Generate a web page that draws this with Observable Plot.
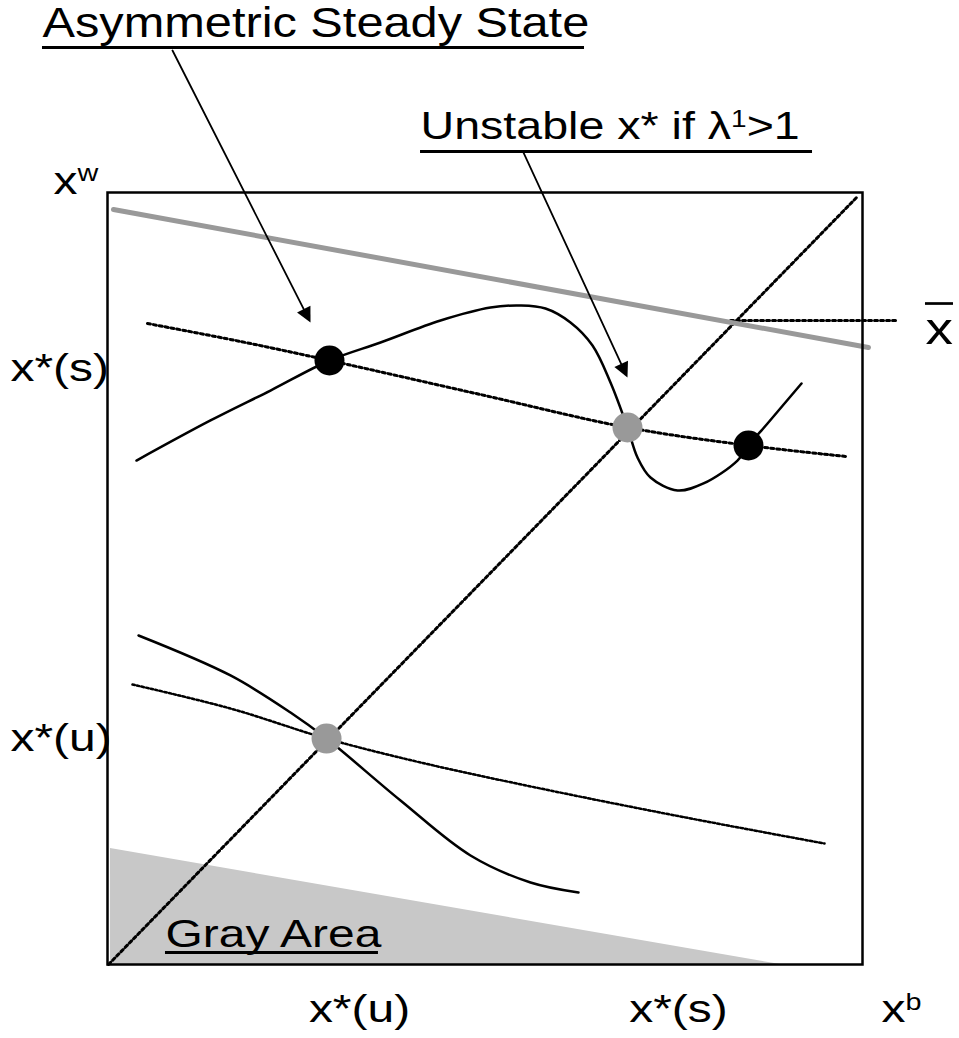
<!DOCTYPE html>
<html><head><meta charset="utf-8">
<script src="https://cdn.jsdelivr.net/npm/d3@7"></script>
<script src="https://cdn.jsdelivr.net/npm/@observablehq/plot@0.6"></script>
<style>body{margin:0;background:#fff}#chart{width:959px;height:1038px}</style>
</head><body><div id="chart"></div>
<script>
// ---- data (units: box spans 0..10 on both axes) ----
const greyLineX = [0.079, 10.079];
const greyLineY = [9.780, 7.992];
const diagonalX = [0.013, 9.934];
const diagonalY = [0.000, 9.948];
const xbarRefX = [8.252, 10.450];
const xbarRefY = [8.342, 8.342];
const upperSolidX = [0.384,1.364,2.159,2.940,3.616,4.411,5.073,5.470,5.801,6.132,6.424,6.662,6.887,7.020,7.192,7.550,7.894,8.344,8.490,8.742,9.192];
const upperSolidY = [6.528,7.047,7.435,7.824,8.057,8.342,8.510,8.536,8.497,8.316,8.018,7.539,6.956,6.567,6.308,6.140,6.231,6.528,6.723,7.008,7.526];
const upperDottedX = [0.530,1.762,2.940,4.940,6.887,8.490,9.788];
const upperDottedY = [8.303,8.070,7.824,7.383,6.956,6.723,6.580];
const lowerDottedX = [0.331,1.629,2.901,4.146,5.735,7.589,9.497];
const lowerDottedY = [3.627,3.316,2.927,2.617,2.280,1.917,1.567];
const lowerSolidX = [0.411,1.629,2.424,2.901,3.881,4.808,5.603,6.238];
const lowerSolidY = [4.262,3.744,3.264,2.927,2.124,1.412,1.062,0.933];
const grayAreaX = [0.040, 8.914];
const grayAreaY = [1.503, 0.000];
const stableX = [2.940, 8.490];
const stableY = [7.824, 6.723];
const unstableX = [6.887, 2.901];
const unstableY = [6.956, 2.927];
// annotations
const calloutText = ["Asymmetric Steady State", "Unstable x* if λ^{1}>1"];
const calloutX = [-0.861, 4.146];
const calloutY = [12.008, 10.687];
const calloutUnderX1 = [-0.861, 4.146];
const calloutUnderX2 = [6.318, 9.338];
const calloutUnderY = [11.878, 10.531];
const leaderFromX = [0.861, 5.510];
const leaderFromY = [11.839, 10.518];
const leaderTipX = [2.689, 6.887];
const leaderTipY = [8.316, 7.604];
const axisText = ["x^{w}", "x*(s)", "x*(u)", "Gray Area"];
const axisTextX = [-0.715, -1.285, -1.285, 0.768];
const axisTextY = [9.987, 7.564, 2.772, 0.233];
const bottomText = ["x*(u)", "x*(s)"];
const bottomTextX = [3.338, 7.563];
const bottomTextY = [-0.751, -0.751];
const xbText = ["x^{b}"];
const xbX = [10.252];
const xbY = [-0.751];
const xbarText = ["x"];
const xbarX = [10.834];
const xbarY = [8.044];
const xbarOverX = [10.834, 11.205];
const xbarOverY = 8.562;
const grayUnderX = [0.768, 3.589];
const grayUnderY = 0.155;

// ---- layout ----
const W = 959, H = 1038, ML = 107, MR = 97, MT = 192, MB = 74;
const kx = (W - ML - MR) / 10, ky = (H - MT - MB) / 10;
const FONT = "Liberation Sans, Arial, Helvetica, sans-serif";
const TITLE_FS = 42, CALLOUT_FS = 38.5, LABEL_FS = 39, XBAR_FS = 45;
const stretchBySize = {[TITLE_FS]: 1.16, [CALLOUT_FS]: 1.21, [LABEL_FS]: 1.23, [XBAR_FS]: 1.22};

const zip = (xs, ys) => xs.map((x, i) => ({x, y: ys[i]}));

// arrow heads computed in pixel space from the leader data
const leaders = [], heads = [];
leaderFromX.forEach((fx, i) => {
  const px0 = fx * kx, py0 = -leaderFromY[i] * ky;
  const px1 = leaderTipX[i] * kx, py1 = -leaderTipY[i] * ky;
  const L = Math.hypot(px1 - px0, py1 - py0);
  const ux = (px1 - px0) / L, uy = (py1 - py0) / L;
  const hl = 15, hw = 7.5;
  const bx = px1 - ux * hl, by = py1 - uy * hl;
  const toD = (px, py) => ({x: px / kx, y: -py / ky, id: i});
  leaders.push({x: fx, y: leaderFromY[i], id: i}, toD(bx, by));
  heads.push(toD(px1, py1), toD(bx - uy * hw, by + ux * hw), toD(bx + uy * hw, by - ux * hw));
});

const callouts = calloutText.map((t, i) => ({t, x: calloutX[i], y: calloutY[i]}));
const underlines = calloutUnderX1.map((x1, i) => ({x1, x2: calloutUnderX2[i], y: calloutUnderY[i]}));
underlines.push({x1: grayUnderX[0], x2: grayUnderX[1], y: grayUnderY});
const dotted = {stroke: "black", strokeWidth: 3, strokeDasharray: "3 3"};

const plot = Plot.plot({
  width: W, height: H,
  marginLeft: ML, marginRight: MR, marginTop: MT, marginBottom: MB,
  x: {domain: [0, 10], axis: null},
  y: {domain: [0, 10], axis: null},
  style: {fontFamily: FONT, background: "white", overflow: "visible"},
  marks: [
    Plot.areaY(zip(grayAreaX, grayAreaY), {x: "x", y1: 0, y2: "y", fill: "#c8c8c8"}),
    Plot.line(zip(diagonalX, diagonalY), {x: "x", y: "y", ...dotted}),
    Plot.line(zip(xbarRefX, xbarRefY), {x: "x", y: "y", ...dotted}),
    Plot.line(zip(upperDottedX, upperDottedY), {x: "x", y: "y", curve: "catmull-rom", ...dotted}),
    Plot.line(zip(lowerDottedX, lowerDottedY), {x: "x", y: "y", curve: "catmull-rom", ...dotted, strokeWidth: 2.5, strokeDasharray: "2.5 2.2"}),
    Plot.line(zip(upperSolidX, upperSolidY), {x: "x", y: "y", curve: "catmull-rom", stroke: "black", strokeWidth: 2.5}),
    Plot.line(zip(lowerSolidX, lowerSolidY), {x: "x", y: "y", curve: "catmull-rom", stroke: "black", strokeWidth: 2.5}),
    Plot.line(zip(greyLineX, greyLineY), {x: "x", y: "y", stroke: "#999999", strokeWidth: 5}),
    Plot.frame({stroke: "black", strokeWidth: 2.5}),
    Plot.line(leaders, {x: "x", y: "y", z: "id", stroke: "black", strokeWidth: 1.8}),
    Plot.line(heads, {x: "x", y: "y", z: "id", fill: "black", stroke: "none"}),
    Plot.dot(zip(stableX, stableY), {x: "x", y: "y", r: 15, fill: "black"}),
    Plot.dot(zip(unstableX, unstableY), {x: "x", y: "y", r: 15, fill: "#999999"}),
    Plot.ruleY(underlines, {x1: "x1", x2: "x2", y: "y", stroke: "black", strokeWidth: 3}),
    Plot.ruleY([xbarOverY], {x1: xbarOverX[0], x2: xbarOverX[1], stroke: "black", strokeWidth: 2.7}),
    Plot.text(callouts.slice(0, 1), {x: "x", y: "y", text: "t", fontSize: TITLE_FS, textAnchor: "start", lineAnchor: "bottom", fill: "black"}),
    Plot.text(callouts.slice(1), {x: "x", y: "y", text: "t", fontSize: CALLOUT_FS, textAnchor: "start", lineAnchor: "bottom", fill: "black"}),
    Plot.text(axisText.map((t, i) => ({t, x: axisTextX[i], y: axisTextY[i]})), {x: "x", y: "y", text: "t", fontSize: LABEL_FS, textAnchor: "start", lineAnchor: "bottom", fill: "black"}),
    Plot.text(bottomText.map((t, i) => ({t, x: bottomTextX[i], y: bottomTextY[i]})), {x: "x", y: "y", text: "t", fontSize: LABEL_FS, textAnchor: "middle", lineAnchor: "bottom", fill: "black"}),
    Plot.text(xbText.map((t, i) => ({t, x: xbX[i], y: xbY[i]})), {x: "x", y: "y", text: "t", fontSize: LABEL_FS, textAnchor: "start", lineAnchor: "bottom", fill: "black"}),
    Plot.text(xbarText.map((t, i) => ({t, x: xbarX[i], y: xbarY[i]})), {x: "x", y: "y", text: "t", fontSize: XBAR_FS, textAnchor: "start", lineAnchor: "bottom", fill: "black"})
  ]
});
document.getElementById("chart").appendChild(plot);

// typographic post-processing: superscripts and horizontal stretch of the lettering
const NS = "http://www.w3.org/2000/svg";
plot.querySelectorAll("text").forEach(t => {
  const fs = parseFloat(getComputedStyle(t).fontSize) || LABEL_FS;
  const sx = stretchBySize[fs] || 1.2;
  const s = t.textContent;
  if (s.includes("^{")) {
    const parts = s.split(/(\^\{[^}]*\})/);
    t.textContent = "";
    let raised = false;
    for (const p of parts) {
      if (!p) continue;
      const ts = document.createElementNS(NS, "tspan");
      const m = p.match(/^\^\{(.*)\}$/);
      if (m) {
        ts.textContent = m[1];
        ts.setAttribute("font-size", (fs * 0.6).toFixed(1));
        ts.setAttribute("dy", (-0.33 * fs).toFixed(1));
        raised = true;
      } else {
        ts.textContent = p;
        if (raised) { ts.setAttribute("dy", (0.33 * fs).toFixed(1)); raised = false; }
      }
      t.appendChild(ts);
    }
  }
  let tx = 0, ty = 0;
  const xa = t.getAttribute("x");
  if (xa != null) { if (!xa.endsWith("em")) tx = +xa; t.removeAttribute("x"); }
  const ya = t.getAttribute("y");
  if (ya != null) { if (!ya.endsWith("em")) ty = +ya; t.removeAttribute("y"); }
  t.removeAttribute("dy");
  const tr = t.getAttribute("transform") || "";
  t.setAttribute("transform", `${tr} translate(${tx},${ty}) scale(${sx},1)`);
});
</script></body></html>
